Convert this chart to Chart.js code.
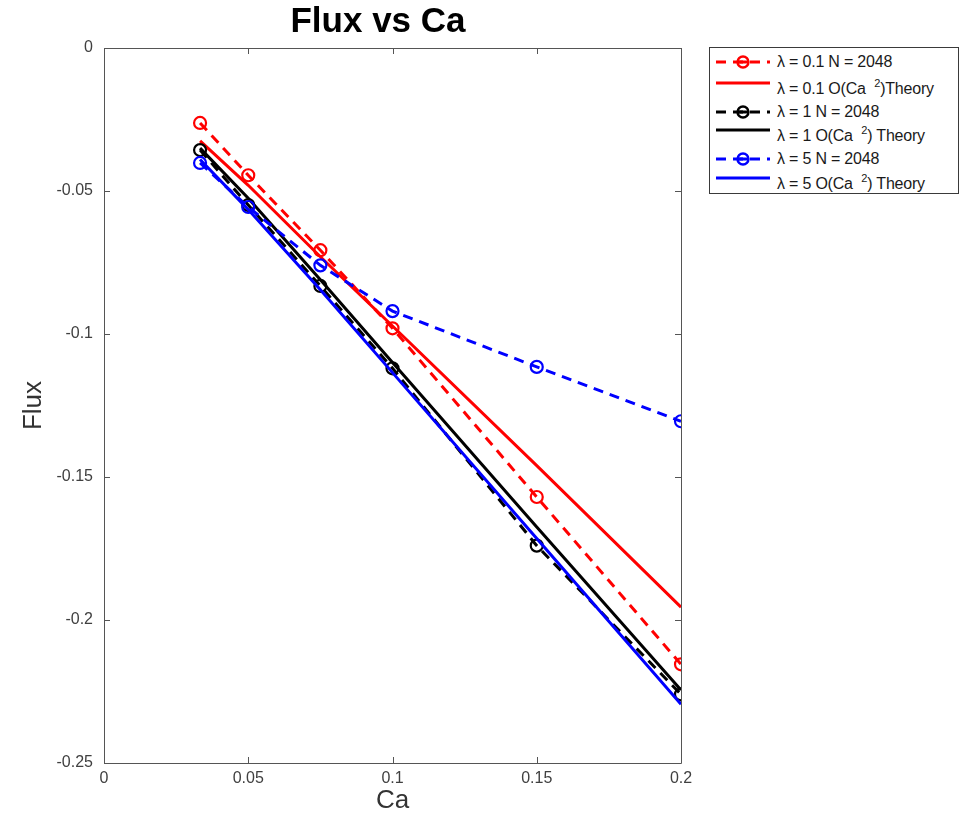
<!DOCTYPE html>
<html>
<head>
<meta charset="utf-8">
<script src="https://cdn.jsdelivr.net/npm/chart.js@4/dist/chart.umd.min.js"></script>
<style>
  html, body { margin:0; padding:0; background:#fff; }
  #wrap { position:relative; width:962px; height:825px; font-family:"Liberation Sans", Arial, Helvetica, sans-serif; }
  #c { position:absolute; left:0; top:0; }
  #title { position:absolute; left:278px; width:200px; top:2px; text-align:center; font-weight:bold; font-size:35px; line-height:35px; color:#000; }
  #legend { position:absolute; left:709px; top:47px; width:250px; height:147px; border:1px solid #3a3a3a; background:#fff; box-sizing:border-box; }
  .ls { position:absolute; left:4px; }
  .lt { position:absolute; left:67px; font-size:16px; line-height:16px; color:#1a1a1a; white-space:nowrap; letter-spacing:-0.2px; }
  .lt sup { font-size:11px; vertical-align:0; position:relative; top:-7px; }
</style>
</head>
<body>
<div id="wrap">
  <canvas id="c" width="962" height="825"></canvas>
  <div id="title">Flux vs Ca</div>
  <div id="legend"></div>
</div>
<script>
// ---- data ----
const ca = [0.0333, 0.05, 0.075, 0.1, 0.15, 0.2];
const redSim      = [-0.0262, -0.0445, -0.0707, -0.0980, -0.1570, -0.2155];
const redTheory   = [-0.0325, -0.0480, -0.0730, -0.0972, -0.1460, -0.1955];
const blackSim    = [-0.0357, -0.0549, -0.0832, -0.1120, -0.1740, -0.2260];
const blackTheory = [-0.0350, -0.0525, -0.0810, -0.1100, -0.1675, -0.2245];
const blueSim     = [-0.0402, -0.0556, -0.0760, -0.0920, -0.1115, -0.1305];
const blueTheory  = [-0.0390, -0.0565, -0.0845, -0.1135, -0.1715, -0.2295];
const xTicks = [0, 0.05, 0.1, 0.15, 0.2];
const yTicks = [0, -0.05, -0.1, -0.15, -0.2, -0.25];
const seriesLabels = [
  'λ = 0.1 N = 2048',
  'λ = 0.1 O(Ca  ²)Theory',
  'λ = 1 N = 2048',
  'λ = 1 O(Ca  ²) Theory',
  'λ = 5 N = 2048',
  'λ = 5 O(Ca  ²) Theory'
];
const seriesValues = [redSim, redTheory, blackSim, blackTheory, blueSim, blueTheory];
const seriesColors = ['#ff0000', '#ff0000', '#000000', '#000000', '#0000ff', '#0000ff'];
const seriesDashed = [true, false, true, false, true, false];

const datasets = seriesValues.map((vals, i) => ({
  label: seriesLabels[i],
  data: ca.map((x, j) => ({ x: x, y: vals[j] })),
  borderColor: seriesColors[i],
  backgroundColor: 'rgba(0,0,0,0)',
  borderWidth: 3,
  borderDash: seriesDashed[i] ? [10, 7] : [],
  pointStyle: 'circle',
  pointRadius: seriesDashed[i] ? 6 : 0,
  pointBorderWidth: 2.2,
  pointBorderColor: seriesColors[i],
  pointBackgroundColor: 'rgba(0,0,0,0)',
  fill: false,
  tension: 0,
  order: 6 - i
}));

const boxPlugin = {
  id: 'boxTicks',
  afterDraw(chart) {
    const { ctx, chartArea: a, scales } = chart;
    ctx.save();
    ctx.strokeStyle = '#555';
    ctx.lineWidth = 1;
    ctx.beginPath();
    ctx.rect(Math.round(a.left) + 0.5, Math.round(a.top) + 0.5, Math.round(a.right - a.left), Math.round(a.bottom - a.top));
    ctx.stroke();
    const L = 6;
    ctx.beginPath();
    xTicks.forEach(v => {
      const p = Math.round(scales.x.getPixelForValue(v)) + 0.5;
      ctx.moveTo(p, a.bottom); ctx.lineTo(p, a.bottom - L);
      ctx.moveTo(p, a.top); ctx.lineTo(p, a.top + L);
    });
    yTicks.forEach(v => {
      const p = Math.round(scales.y.getPixelForValue(v)) + 0.5;
      ctx.moveTo(a.left, p); ctx.lineTo(a.left + L, p);
      ctx.moveTo(a.right, p); ctx.lineTo(a.right - L, p);
    });
    ctx.stroke();
    ctx.restore();
  }
};

const fmt = v => Number(Number(v).toFixed(2)).toString();

new Chart(document.getElementById('c'), {
  type: 'line',
  data: { datasets },
  options: {
    responsive: false,
    animation: false,
    layout: { padding: { top: 48, right: 281, left: 0, bottom: 0 } },
    plugins: { legend: { display: false }, tooltip: { enabled: false }, title: { display: false } },
    scales: {
      x: {
        type: 'linear', min: 0, max: 0.2,
        afterFit(s) { s.height = 62; },
        afterBuildTicks(s) { s.ticks = xTicks.map(v => ({ value: v })); },
        grid: { display: false, drawTicks: false },
        border: { display: false },
        ticks: { padding: 6, color: '#404040', font: { family: '"Liberation Sans", Arial, sans-serif', size: 16 }, callback: fmt, maxRotation: 0 },
        title: { display: true, text: 'Ca', color: '#333', font: { family: '"Liberation Sans", Arial, sans-serif', size: 26 }, padding: { top: 0, bottom: 9 } }
      },
      y: {
        type: 'linear', min: -0.25, max: 0,
        afterFit(s) { s.width = 104; },
        afterBuildTicks(s) { s.ticks = yTicks.slice().reverse().map(v => ({ value: v })); },
        grid: { display: false, drawTicks: false },
        border: { display: false },
        ticks: { padding: 11, color: '#404040', font: { family: '"Liberation Sans", Arial, sans-serif', size: 16 }, callback: fmt },
        title: { display: true, text: 'Flux', color: '#333', font: { family: '"Liberation Sans", Arial, sans-serif', size: 26 }, padding: { top: 18, bottom: 0 } }
      }
    }
  },
  plugins: [boxPlugin]
});

// ---- legend (HTML) ----
const sampleY = [14, 35, 64, 82, 111, 130];
const textTop = [6, 33, 56, 80, 103, 128];
const leg = document.getElementById('legend');
seriesLabels.forEach((lab, i) => {
  const svgNS = 'http://www.w3.org/2000/svg';
  const svg = document.createElementNS(svgNS, 'svg');
  svg.setAttribute('width', '58'); svg.setAttribute('height', '16');
  svg.setAttribute('class', 'ls');
  svg.style.top = (sampleY[i] - 8) + 'px';
  const line = document.createElementNS(svgNS, 'line');
  line.setAttribute('x1', '2'); line.setAttribute('x2', '56');
  line.setAttribute('y1', '8'); line.setAttribute('y2', '8');
  line.setAttribute('stroke', seriesColors[i]);
  line.setAttribute('stroke-width', '3');
  if (seriesDashed[i]) line.setAttribute('stroke-dasharray', '10 7');
  svg.appendChild(line);
  if (seriesDashed[i]) {
    const c = document.createElementNS(svgNS, 'circle');
    c.setAttribute('cx', '29'); c.setAttribute('cy', '8'); c.setAttribute('r', '5.5');
    c.setAttribute('fill', 'none'); c.setAttribute('stroke', seriesColors[i]); c.setAttribute('stroke-width', '2.4');
    svg.appendChild(c);
    const m = document.createElementNS(svgNS, 'line');
    m.setAttribute('x1', '24'); m.setAttribute('x2', '34'); m.setAttribute('y1', '8'); m.setAttribute('y2', '8');
    m.setAttribute('stroke', seriesColors[i]); m.setAttribute('stroke-width', '3');
    svg.appendChild(m);
  }
  leg.appendChild(svg);
  const t = document.createElement('div');
  t.className = 'lt';
  t.style.top = textTop[i] + 'px';
  t.innerHTML = lab.replace('  ²', '&nbsp;&nbsp;<sup>2</sup>');
  leg.appendChild(t);
});
</script>
</body>
</html>
